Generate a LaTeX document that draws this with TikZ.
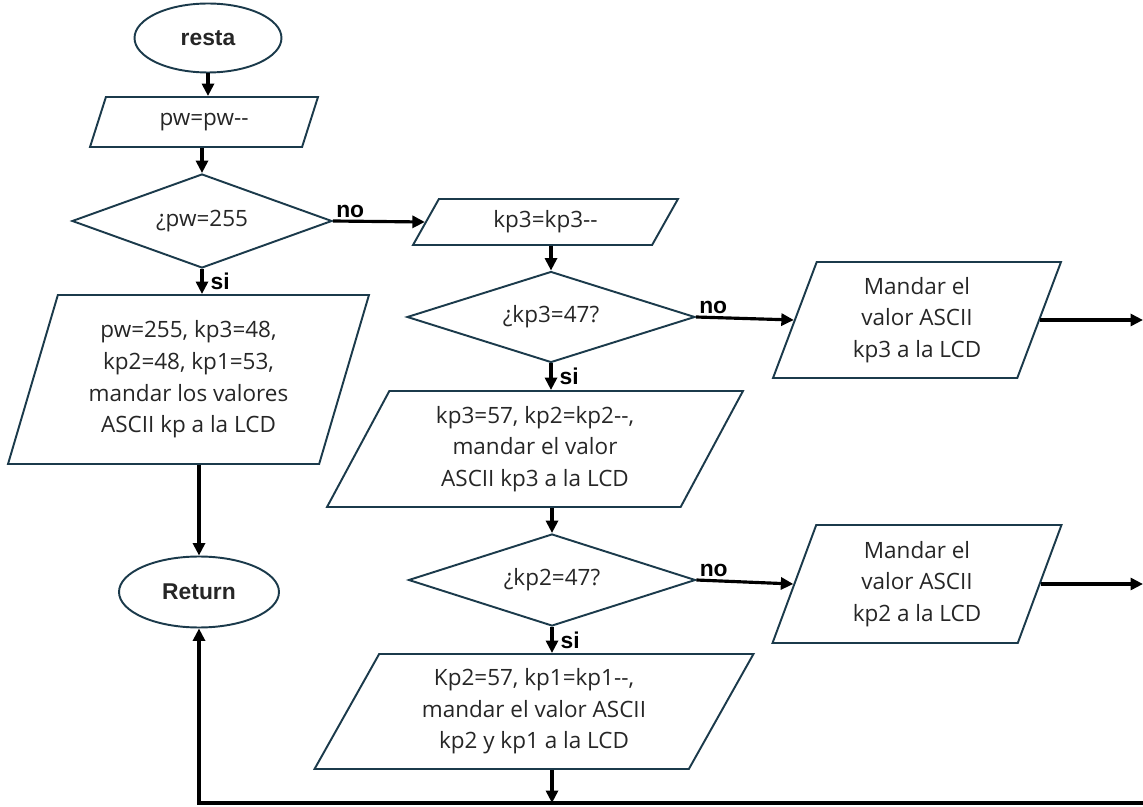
\documentclass[tikz,border=0pt]{standalone}
\usepackage{fontspec}
\setmainfont{Open Sans}
\newfontfamily\labelfont{Liberation Sans}
\usepackage{tikz}
\usetikzlibrary{shapes,shapes.geometric,arrows.meta,calc,positioning}
\definecolor{shapeblue}{HTML}{1B3A4B}
\definecolor{txtgray}{HTML}{262626}

\begin{document}
\begin{tikzpicture}[x=0.02cm, y=-0.02cm,
  font=\fontsize{12.8}{18}\selectfont,
  box/.style={draw=shapeblue, line width=1.1pt, text=txtgray, align=center, inner sep=0pt},
  terminal/.style={box, ellipse, font=\labelfont\bfseries\fontsize{13}{14}\selectfont},
  decision/.style={box, diamond, shape aspect=3},
  io/.style={box, trapezium, trapezium stretches body},
  flow/.style={-{Triangle[length=2.5mm,width=2.4mm]}, line width=1.8pt},
  lbl/.style={font=\labelfont\bfseries\fontsize{13}{14}\selectfont, inner sep=1pt},
  yes/.style={lbl, right, inner sep=4pt}]
  \useasboundingbox (0,0) rectangle (1143,807);

  % left column
  \node [terminal, minimum width=29.4mm, minimum height=13.8mm] at (208,38) (resta) {resta};
  \node [io, minimum width=45.6mm, minimum height=10mm, trapezium left angle=48, trapezium right angle=132] at (204,122) (pw) {pw=pw-{}-};
  \node [decision, minimum width=52mm, minimum height=18.8mm] at (202,221) (d1) {¿pw=255};
  \node [io, minimum width=72.2mm, minimum height=33.8mm, trapezium left angle=67, trapezium right angle=113] at (188.5,379.5) (reset) {pw=255, kp3=48,\\kp2=48, kp1=53,\\mandar los valores\\ASCII kp a la LCD};
  \node [terminal, minimum width=32mm, minimum height=14.2mm] at (199,592) (ret) {Return};

  % middle column
  \node [io, minimum width=53mm, minimum height=9.2mm, trapezium left angle=41, trapezium right angle=139] at (545.5,222) (kp3) {kp3=kp3-{}-};
  \node [decision, minimum width=57.6mm, minimum height=18.2mm] at (551,317) (d2) {¿kp3=47?};
  \node [io, minimum width=83.2mm, minimum height=23.2mm, trapezium left angle=54, trapezium right angle=126] at (535,449) (wrap3) {kp3=57, kp2=kp2-{}-,\\mandar el valor\\ASCII kp3 a la LCD};
  \node [decision, minimum width=57.4mm, minimum height=18.4mm] at (552,580) (d3) {¿kp2=47?};
  \node [io, minimum width=87.8mm, minimum height=23mm, trapezium left angle=53, trapezium right angle=127] at (534,711.5) (wrap2) {Kp2=57, kp1=kp1-{}-,\\mandar el valor ASCII\\kp2 y kp1 a la LCD};

  % right column
  \node [io, minimum width=57.6mm, minimum height=23.2mm, trapezium left angle=63, trapezium right angle=117] at (917,320) (send3) {Mandar el\\valor ASCII\\kp3 a la LCD};
  \node [io, minimum width=57.8mm, minimum height=23.6mm, trapezium left angle=63, trapezium right angle=117] at (917,584) (send2) {Mandar el\\valor ASCII\\kp2 a la LCD};

  \coordinate (out3) at (1143,317);
  \coordinate (out2) at (1143,582);
  \coordinate (back) at (1143,803);

  \draw [flow] (resta.south) -- (resta.south |- pw.north);
  \draw [flow] (d1.north |- pw.south) -- (d1.north);
  \draw [flow] (d1.east) -- node [lbl, pos=0, above right] {no} (kp3.left side);
  \draw [flow] (d1.south) -- node [yes] {si} (d1.south |- reset.north);
  \draw [flow] (ret.north |- reset.south) -- (ret.north);

  \draw [flow] (d2.north |- kp3.south) -- (d2.north);
  \draw [flow] (d2.east) -- node [lbl, pos=0, above right] {no} (send3.left side);
  \draw [flow] (send3.right side) -- (send3.right side -| out3);
  \draw [flow] (d2.south) -- node [yes] {si} (d2.south |- wrap3.north);
  \draw [flow] (d3.north |- wrap3.south) -- (d3.north);
  \draw [flow] (d3.east) -- node [lbl, pos=0, above right] {no} (send2.left side);
  \draw [flow] (send2.right side) -- (send2.right side -| out2);
  \draw [flow] (d3.south) -- node [yes] {si} (d3.south |- wrap2.north);
  \draw [flow] (d3.south |- wrap2.south) -- (d3.south |- back);
  \draw [flow] (back) -- (ret.south |- back) -- (ret.south);
\end{tikzpicture}
\end{document}
